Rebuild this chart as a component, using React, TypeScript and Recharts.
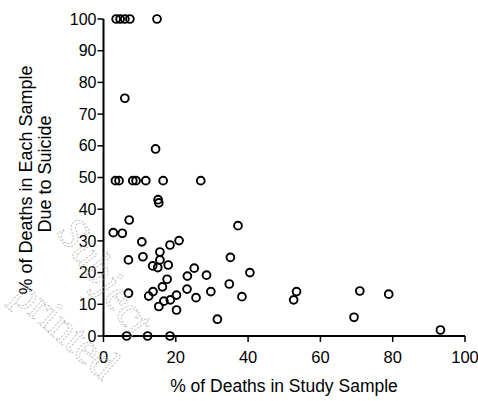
import React from "react";
import { ScatterChart, Scatter, XAxis, YAxis } from "recharts";

// % of deaths in study sample (x)
const studyPct = [
  3.5, 4.6, 5.9, 7.3, 14.8,
  5.9, 14.4,
  3.3, 4.3, 8.1, 9.0, 11.7, 16.5, 26.9,
  15.1, 15.3, 7.1, 2.7, 5.2,
  10.6, 18.4, 20.9, 15.6, 10.9, 6.9, 15.6, 13.6, 15.0, 17.9, 25.1,
  23.2, 28.5, 17.6, 16.3, 23.1, 29.7, 13.7, 12.5, 20.2, 25.6,
  18.5, 16.7, 15.3, 20.2, 6.9, 31.5,
  37.2, 35.1, 40.5, 34.8, 38.3,
  53.4, 52.6, 70.9, 69.3, 78.9, 93.2,
  6.4, 12.2, 18.4,
];
// % of deaths in each sample due to suicide (y)
const suicidePct = [
  100, 100, 100, 100, 100,
  75, 59,
  49, 49, 49, 49, 49, 49, 49,
  43, 42, 36.6, 32.6, 32.4,
  29.7, 28.7, 30.1, 26.5, 25.0, 24.0, 24.0, 22.1, 21.6, 22.4, 21.4,
  18.9, 19.2, 17.9, 15.5, 14.8, 14.0, 14.0, 12.6, 12.9, 12.1,
  11.4, 11.0, 9.3, 8.2, 13.5, 5.3,
  34.8, 24.8, 20.0, 16.4, 12.4,
  14.0, 11.4, 14.2, 5.9, 13.2, 1.9,
  0, 0, 0,
];
const xTicks = [0, 20, 40, 60, 80, 100];
const yTicks = [0, 10, 20, 30, 40, 50, 60, 70, 80, 90, 100];
const xLabel = "% of Deaths in Study Sample";
const yLabel1 = "% of Deaths in Each Sample";
const yLabel2 = "Due to Suicide";

const data = studyPct.map((x, i) => ({ x, y: suicidePct[i] }));

const FONT = "'Liberation Sans', Arial, Helvetica, sans-serif";

const OpenCircle = (props: any) => {
  const { cx, cy } = props;
  return <circle cx={cx} cy={cy} r={3.9} fill="none" stroke="#000" strokeWidth={1.9} />;
};

const XLab = () => (
  <text x={284} y={392} textAnchor="middle" fontFamily={FONT} fontSize={17.5} fill="#000">
    {xLabel}
  </text>
);

const YLab = () => (
  <g fontFamily={FONT} fontSize={18} fill="#000" textAnchor="middle">
    <text transform="translate(32,180) rotate(-90)">{yLabel1}</text>
    <text transform="translate(51,174) rotate(-90)">{yLabel2}</text>
  </g>
);

export default function App() {
  return (
    <div style={{ position: "absolute", left: 0, top: 0, width: 478, height: 401, background: "#fff" }}>
      <ScatterChart width={478} height={401} margin={{ top: 19, right: 13, bottom: 35, left: 43.5 }}>
        <XAxis
          type="number"
          dataKey="x"
          domain={[0, 100]}
          ticks={xTicks}
          interval={0}
          height={30}
          axisLine={{ stroke: "#000", strokeWidth: 2 }}
          tickLine={{ stroke: "#000", strokeWidth: 1.5 }}
          tickSize={6}
          tickMargin={9}
          tick={{ fill: "#000", fontSize: 16.5, fontFamily: FONT }}
          label={{ content: () => <XLab /> }}
        />
        <YAxis
          type="number"
          dataKey="y"
          domain={[0, 100]}
          ticks={yTicks}
          interval={0}
          width={60}
          axisLine={{ stroke: "#000", strokeWidth: 2 }}
          tickLine={{ stroke: "#000", strokeWidth: 1.5 }}
          tickSize={6}
          tickMargin={1}
          tick={{ fill: "#000", fontSize: 16, fontFamily: FONT }}
          label={{ content: () => <YLab /> }}
        />
        <Scatter data={data} shape={<OpenCircle />} isAnimationActive={false} />
      </ScatterChart>
      <svg width={478} height={401} style={{ position: "absolute", left: 0, top: 0, pointerEvents: "none" }}>
        <g fill="none" stroke="#a8a8a8" strokeWidth={0.7} strokeDasharray="2 1.5" fontFamily="'Liberation Serif', 'DejaVu Serif', serif" fontSize={44}>
          <text transform="translate(10,298) rotate(42)">printed</text>
          <text transform="translate(55,232) rotate(54)">Subject</text>
        </g>
      </svg>
    </div>
  );
}
